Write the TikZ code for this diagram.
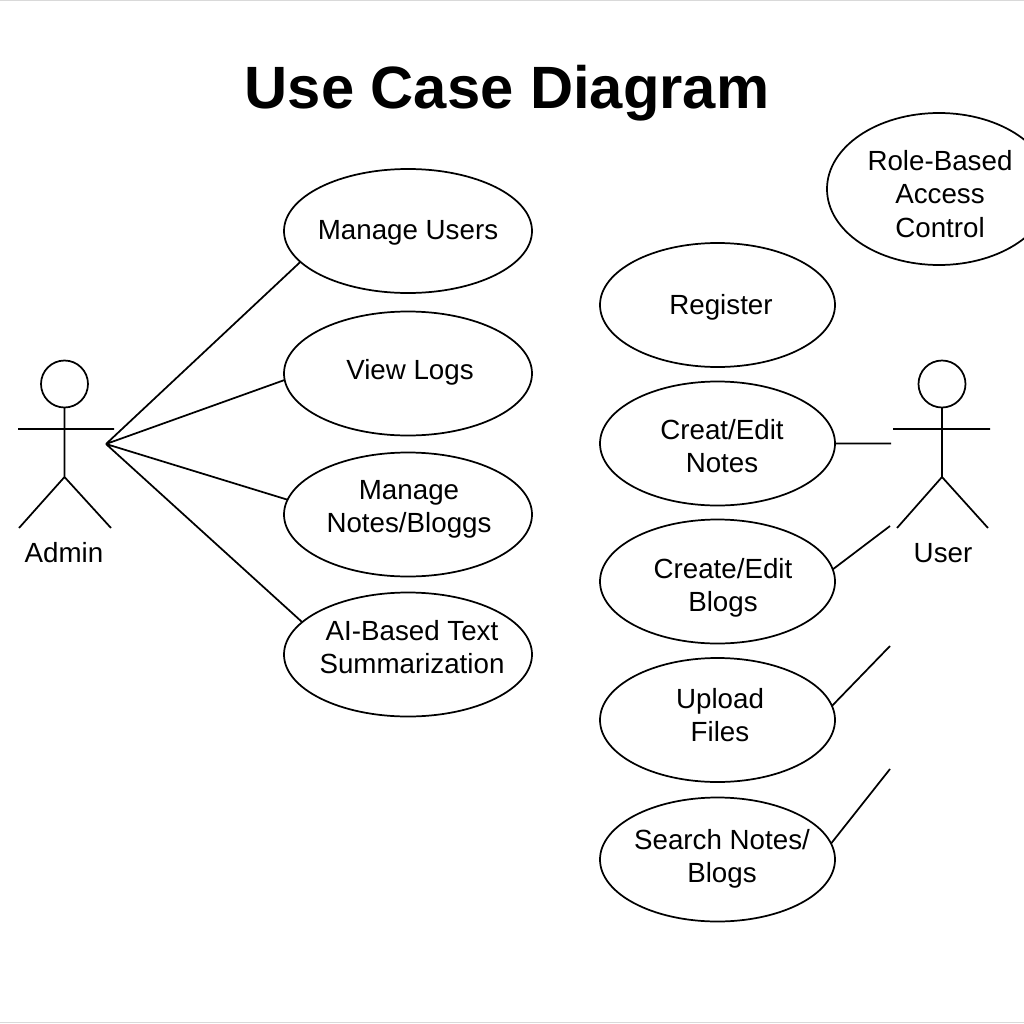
\documentclass[tikz,border=0pt]{standalone}
\usepackage{fontspec}
\setmainfont{Liberation Sans}
\usetikzlibrary{shapes.geometric}
\tikzset{
  usecase/.style={draw=black,fill=white,ellipse,line width=1.3pt,minimum width=186pt,minimum height=93pt,inner sep=0pt,outer sep=0pt,align=center},
  smallcase/.style={usecase,minimum width=176.25pt},
  link/.style={line width=1.3pt,draw=black},
  figure/.style={line width=1.3pt,draw=black},
  headc/.style={circle,draw=black,line width=1.3pt,minimum size=35.25pt,inner sep=0pt,outer sep=0pt},
  lbl/.style={font=\fontsize{20.8pt}{25pt}\selectfont,inner sep=0pt,align=center},
}
\begin{document}
\begin{tikzpicture}[x=0.75pt,y=-0.75pt]
\useasboundingbox (0,0) rectangle (1024,1024);
\fill[white] (0,0) rectangle (1024,1024);
\draw[black!15,line width=0.75pt] (0,0.5) -- (1024,0.5);
\draw[black!15,line width=0.75pt] (0,1022) -- (1024,1022);
\node[font=\fontsize{44.8pt}{50pt}\selectfont\bfseries,inner sep=0pt] (title) at (507,93) {Use Case Diagram};
\node[usecase] (mu) at (408,231) {};
\node[lbl] (mut) at (408,233) {Manage Users};
\node[usecase] (vl) at (408,373.5) {};
\node[lbl] (vlt) at (410,372) {View Logs};
\node[usecase] (mn) at (408,514.5) {};
\node[lbl] (mnt) at (409,509) {Manage\\Notes/Bloggs};
\node[usecase] (ai) at (408,654.5) {};
\node[lbl] (ait) at (412,647) {AI-Based Text\\Summarization};
\node[smallcase] (re) at (717.5,305) {};
\node[lbl] (ret) at (721,307) {Register};
\node[smallcase] (cn) at (717.5,443.5) {};
\node[lbl] (cnt) at (722,446) {Creat/Edit\\Notes};
\node[smallcase] (cb) at (717.5,581.5) {};
\node[lbl] (cbt) at (723,588) {Create/Edit\\Blogs};
\node[smallcase] (uf) at (717.5,720) {};
\node[lbl] (uft) at (720,715) {Upload\\Files};
\node[smallcase] (sn) at (717.5,859.5) {};
\node[lbl] (snt) at (722,859) {Search Notes/\\Blogs};
\node[usecase,minimum width=168pt,minimum height=114pt] (rb) at (939,189) {};
\node[lbl] (rbt) at (940,194) {Role-Based\\Access\\Control};
% Admin
\node[headc] (ah) at (64.5,384) {};
\coordinate (ab) at (64.5,477);
\coordinate (aal) at (18,429);
\coordinate (aar) at (114,429);
\coordinate (all) at (19,528);
\coordinate (alr) at (111,528);
\draw[figure] (ah) -- (ab) (aal) -- (aar) (ab) -- (all) (ab) -- (alr);
\node[lbl] (adm) at (64,553) {Admin};
% User
\node[headc] (uh) at (942,384) {};
\coordinate (ub) at (942,477);
\coordinate (ual) at (893,429);
\coordinate (uar) at (990,429);
\coordinate (ull) at (897,528);
\coordinate (ulr) at (988,528);
\draw[figure] (uh) -- (ub) (ual) -- (uar) (ub) -- (ull) (ub) -- (ulr);
\node[lbl] (usr) at (943,553) {User};
% Links
\coordinate (hub) at (106,444);
\draw[link] (hub) -- (mu.196.65) (hub) -- (vl.183.7) (hub) -- (mn.173.4) (hub) -- (ai.163.2);
\coordinate (e1) at (891,443.5);
\coordinate (e2) at (890,526);
\coordinate (e3) at (890,646);
\coordinate (e4) at (890,769);
\draw[link] (cn.east) -- (e1) (cb.6.9) -- (e2) (uf.7.4) -- (e3) (sn.8.4) -- (e4);
\end{tikzpicture}
\end{document}
